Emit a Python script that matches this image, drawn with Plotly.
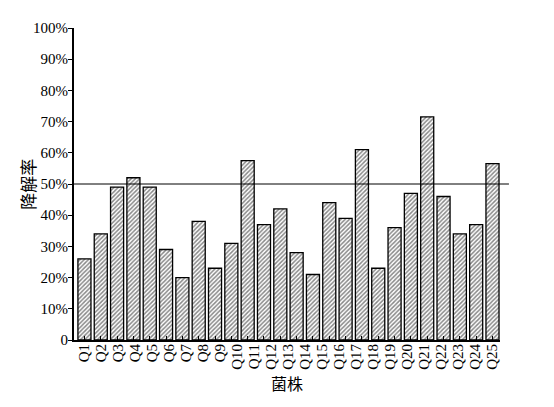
import plotly.graph_objects as go

# 降解率 (%) of each bar (26 bars, 25 labels in the original)
rates = [26, 34, 49, 52, 49, 29, 20, 38, 23, 31, 57.5, 37, 42, 28, 21,
         44, 39, 61, 23, 36, 47, 71.5, 46, 34, 37, 56.5]
strains = ["Q%d" % i for i in range(1, 26)]
y_ticks = list(range(0, 101, 10))
y_labels = ["0"] + ["%d%%" % v for v in y_ticks[1:]]
threshold = 50

FONT = "Liberation Serif, Times New Roman, Noto Sans CJK SC, serif"

fig = go.Figure()

bar_pos = list(range(1, len(rates) + 1))
fig.add_trace(go.Bar(
    x=bar_pos,
    y=rates,
    width=0.8,
    marker=dict(
        color="white",
        line=dict(color="black", width=1.3),
        pattern=dict(shape="/", fgcolor="#111", bgcolor="white",
                     size=3, solidity=0.5),
    ),
    showlegend=False,
))

# category labels on their own axis (spaced evenly across the plot)
label_pos = list(range(1, len(strains) + 1))
fig.add_trace(go.Scatter(
    x=label_pos, y=[None] * len(label_pos), xaxis="x2",
    mode="markers", showlegend=False, hoverinfo="skip",
))

fig.add_shape(type="line", xref="paper", yref="y",
              x0=0, x1=1.021, y0=threshold, y1=threshold,
              line=dict(color="black", width=1))

# the page adds an 8px body margin, so the figure is a little smaller
fig.update_layout(
    width=546, height=399,
    margin=dict(l=66, r=54, t=14, b=67),
    plot_bgcolor="white", paper_bgcolor="white",
    font=dict(family=FONT, size=15, color="black"),
    xaxis=dict(
        range=[0.36, 26.46], tickvals=bar_pos, showticklabels=False,
        ticks="inside", ticklen=4, tickwidth=1, tickcolor="black",
        showline=True, linewidth=2, linecolor="black",
        showgrid=False, zeroline=False,
    ),
    xaxis2=dict(
        overlaying="x", anchor="y", side="bottom",
        range=[0.41, 25.47], tickvals=label_pos, ticktext=strains,
        tickangle=-90, ticks="", showline=False, showgrid=False,
        zeroline=False, tickfont=dict(family=FONT, size=15),
    ),
    yaxis=dict(
        range=[0, 100], tickvals=y_ticks, ticktext=y_labels,
        ticks="outside", ticklen=4, tickwidth=1, tickcolor="black",
        ticklabelstandoff=-3, tickfont=dict(family=FONT, size=15),
        showline=True, linewidth=2, linecolor="black",
        showgrid=False, zeroline=False,
    ),
    annotations=[
        dict(text="降解率", xref="paper", yref="paper", x=-0.111, y=0.5,
             xanchor="center", yanchor="middle",
             textangle=-90, showarrow=False,
             font=dict(family="Noto Sans CJK SC", size=17)),
        dict(text="菌株", xref="paper", yref="paper", x=0.5, y=-0.137,
             xanchor="center", yanchor="middle", showarrow=False,
             font=dict(family="Noto Sans CJK SC", size=16)),
    ],
)

fig.write_html("out.html")
